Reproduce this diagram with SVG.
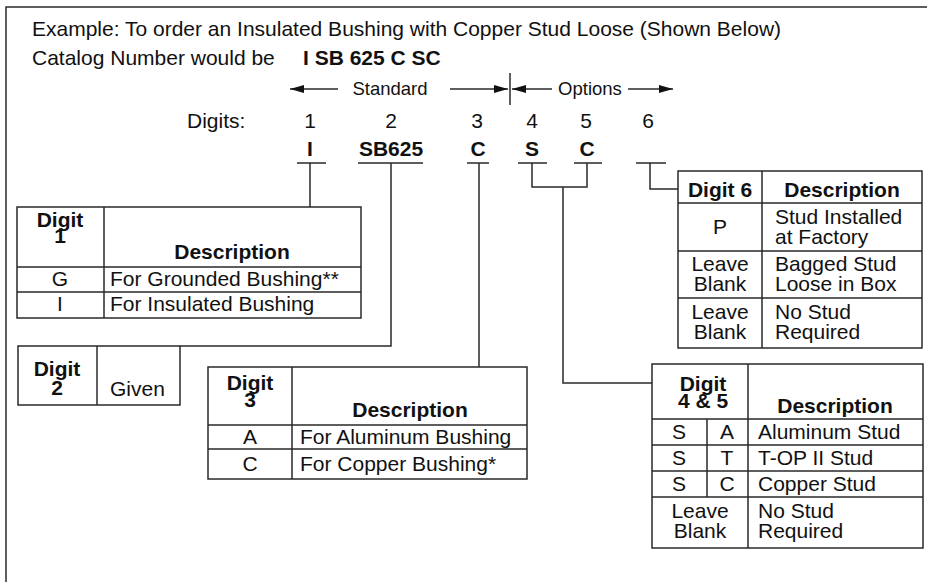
<svg xmlns="http://www.w3.org/2000/svg" width="927" height="582" viewBox="0 0 927 582">
<defs>
<marker id="ah" markerWidth="14" markerHeight="8" refX="14" refY="4" orient="auto" markerUnits="userSpaceOnUse"><path d="M0,0 L14,4 L0,8 Z" fill="#111"/></marker>
</defs>
<style>
text{font-family:"Liberation Sans",Arial,sans-serif;font-size:21px;fill:#111}
.b{font-weight:bold}
.c{text-anchor:middle}
.s{font-size:18.5px}
.ln{stroke:#2a2a2a;stroke-width:1.5;fill:none}
.tb{stroke:#2a2a2a;stroke-width:1.5;fill:#fff}
</style>
<rect width="927" height="582" fill="#fff"/>
<path class="ln" d="M6,582 V7 H927"/>
<g id="header">
<text x="32" y="36">Example: To order an Insulated Bushing with Copper Stud Loose (Shown Below)</text>
<text x="32" y="65">Catalog Number would be</text>
<text x="303" y="65" class="b">I SB 625 C SC</text>
<line class="ln" x1="338" y1="89" x2="290" y2="89" marker-end="url(#ah)"/>
<text x="390" y="95" class="c s">Standard</text>
<line class="ln" x1="450" y1="89" x2="508" y2="89" marker-end="url(#ah)"/>
<line class="ln" x1="510" y1="73" x2="510" y2="105"/>
<line class="ln" x1="552" y1="89" x2="512" y2="89" marker-end="url(#ah)"/>
<text x="590" y="95" class="c s">Options</text>
<line class="ln" x1="628" y1="89" x2="673" y2="89" marker-end="url(#ah)"/>
<text x="187" y="128">Digits:</text>
<text x="310" y="128" class="c">1</text>
<text x="391" y="128" class="c">2</text>
<text x="477" y="128" class="c">3</text>
<text x="532" y="128" class="c">4</text>
<text x="586" y="128" class="c">5</text>
<text x="648" y="128" class="c">6</text>
<text x="310" y="156" class="c b">I</text>
<text x="391" y="156" class="c b">SB625</text>
<text x="478" y="156" class="c b">C</text>
<text x="532" y="156" class="c b">S</text>
<text x="587" y="156" class="c b">C</text>
</g>
<g id="connectors" class="ln">
<path d="M297,163 H326 M310,163 V207"/>
<path d="M358,163 H423 M391,163 V346 H180"/>
<path d="M467,163 H489 M479,163 V367"/>
<path d="M518,163 H547 M532,163 V187 H587 V163 M574,163 H602 M563,187 V383 H652"/>
<path d="M636,163 H666 M650,163 V189 H678"/>
</g>
<g id="digit1">
<rect class="tb" x="17" y="207" width="344" height="111"/>
<path class="ln" d="M104,207 V318 M17,267 H361 M17,292 H361"/>
<text x="60" y="227" class="c b">Digit</text>
<text x="60" y="243" class="c b">1</text>
<text x="232" y="259" class="c b">Description</text>
<text x="60" y="286" class="c">G</text>
<text x="110" y="286">For Grounded Bushing**</text>
<text x="60" y="311" class="c">I</text>
<text x="110" y="311">For Insulated Bushing</text>
</g>
<g id="digit2">
<rect class="tb" x="18" y="346" width="162" height="59"/>
<path class="ln" d="M97,346 V405"/>
<text x="57" y="376" class="c b">Digit</text>
<text x="57" y="395" class="c b">2</text>
<text x="110" y="396">Given</text>
</g>
<g id="digit3">
<rect class="tb" x="208" y="367" width="319" height="112"/>
<path class="ln" d="M292,367 V479 M208,425 H527 M208,449 H527"/>
<text x="250" y="390" class="c b">Digit</text>
<text x="250" y="407" class="c b">3</text>
<text x="410" y="417" class="c b">Description</text>
<text x="250" y="444" class="c">A</text>
<text x="300" y="444">For Aluminum Bushing</text>
<text x="250" y="471" class="c">C</text>
<text x="300" y="471">For Copper Bushing*</text>
</g>
<g id="digit6">
<rect class="tb" x="678" y="171" width="244" height="177"/>
<path class="ln" d="M762,171 V348 M678,203 H922 M678,251 H922 M678,298 H922"/>
<text x="720" y="197" class="c b">Digit 6</text>
<text x="842" y="197" class="c b">Description</text>
<text x="720" y="234" class="c">P</text>
<text x="775" y="224">Stud Installed</text>
<text x="775" y="244">at Factory</text>
<text x="720" y="271" class="c">Leave</text>
<text x="720" y="291" class="c">Blank</text>
<text x="775" y="271">Bagged Stud</text>
<text x="775" y="291">Loose in Box</text>
<text x="720" y="319" class="c">Leave</text>
<text x="720" y="339" class="c">Blank</text>
<text x="775" y="319">No Stud</text>
<text x="775" y="339">Required</text>
</g>
<g id="digit45">
<rect class="tb" x="652" y="364" width="271" height="184"/>
<path class="ln" d="M748,364 V548 M652,419 H923 M652,445 H923 M652,471 H923 M652,497 H923 M707,419 V497"/>
<text x="703" y="391" class="c b">Digit</text>
<text x="703" y="408" class="c b">4 &amp; 5</text>
<text x="835" y="413" class="c b">Description</text>
<text x="679" y="439" class="c">S</text>
<text x="727" y="439" class="c">A</text>
<text x="758" y="439">Aluminum Stud</text>
<text x="679" y="465" class="c">S</text>
<text x="727" y="465" class="c">T</text>
<text x="758" y="465">T-OP II Stud</text>
<text x="679" y="491" class="c">S</text>
<text x="727" y="491" class="c">C</text>
<text x="758" y="491">Copper Stud</text>
<text x="700" y="518" class="c">Leave</text>
<text x="700" y="538" class="c">Blank</text>
<text x="758" y="518">No Stud</text>
<text x="758" y="538">Required</text>
</g>
</svg>
